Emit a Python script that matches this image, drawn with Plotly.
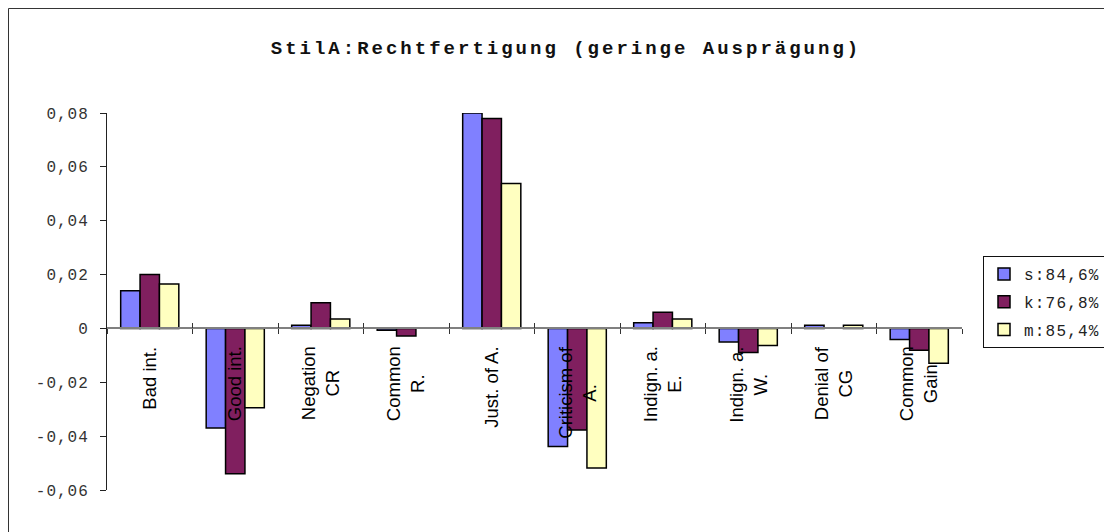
import plotly.graph_objects as go

categories = ["Bad int.", "Good int.", "Negation<br>CR", "Common<br>R.", "Just. of A.",
              "Criticism of<br>A.", "Indign. a.<br>E.", "Indign. a.<br>W.", "Denial of<br>CG", "Common<br>Gain"]
s_vals = [0.014, -0.037, 0.0012, -0.0007, 0.080, -0.0438, 0.0021, -0.005, 0.0012, -0.0041]
k_vals = [0.020, -0.054, 0.0095, -0.0028, 0.078, -0.0377, 0.006, -0.0089, None, -0.0081]
m_vals = [0.0165, -0.0295, 0.0035, None, 0.0538, -0.0518, 0.0035, -0.0063, 0.0012, -0.0129]
series_names = ["s:84,6%", "k:76,8%", "m:85,4%"]
colors = ["#8080FF", "#801F5F", "#FFFFC0"]
tick_vals = [-0.06, -0.04, -0.02, 0, 0.02, 0.04, 0.06, 0.08]
tick_text = ["-0,06", "-0,04", "-0,02", "0", "0,02", "0,04", "0,06", "0,08"]
title_text = "StilA:Rechtfertigung (geringe Ausprägung)"

MONO = "Liberation Mono, DejaVu Sans Mono, monospace"
SANS = "Liberation Sans, Arial, sans-serif"

W, H = 1112, 532
L, T, PW, PH = 99, 105, 855, 377
R = W - L - PW
B = H - T - PH

fig = go.Figure()
for i, (name, vals, col) in enumerate(zip(series_names, [s_vals, k_vals, m_vals], colors)):
    fig.add_trace(go.Bar(
        x=categories, y=vals,
        name='<span style="letter-spacing:1.2px">' + name + '</span>',
        marker=dict(color=col, line=dict(color="black", width=1.5)),
        legendgroup="g%d" % i,
    ))

# overlay axis to draw tick marks crossing upward
fig.add_trace(go.Bar(x=categories, y=[None] * len(categories), xaxis="x2", showlegend=False,
                     hoverinfo="skip"))

ZERO_POS = 0.06 / 0.14

fig.update_layout(
    width=W, height=H,
    paper_bgcolor="white", plot_bgcolor="white",
    margin=dict(l=L, r=R, t=T, b=B, autoexpand=False),
    barmode="group", bargap=0.32, bargroupgap=0,
    separators=", ",
    title=dict(text='<b><span style="letter-spacing:3px">' + title_text + '</span></b>',
               x=558 / W, xanchor="center", y=1 - 39 / H, yanchor="middle",
               font=dict(family=MONO, size=19, color="#111111")),
    xaxis=dict(type="category", anchor="free", position=ZERO_POS, showline=True,
               linecolor="#808080", linewidth=1.5, ticks="outside", ticklen=5,
               tickcolor="#333333", tickson="boundaries", showticklabels=False,
               showgrid=False, zeroline=False, range=[-0.5, 9.5]),
    xaxis2=dict(type="category", overlaying="x", anchor="free", position=ZERO_POS,
                showline=False, ticks="inside", ticklen=5, tickcolor="#333333",
                tickson="boundaries", showticklabels=False, showgrid=False,
                zeroline=False, range=[-0.5, 9.5], side="bottom", matches="x"),
    yaxis=dict(range=[-0.06, 0.08], tickvals=tick_vals,
               ticktext=['<span style="letter-spacing:1px">' + t + '</span>' for t in tick_text],
               showline=True, linecolor="#222222", linewidth=1, ticks="outside",
               ticklen=6, tickcolor="#222222", showgrid=False, zeroline=False,
               ticklabelstandoff=8,
               tickfont=dict(family=MONO, size=16, color="#333333")),
    legend=dict(x=(975 - L) / PW, xanchor="left", y=(T + PH - 248) / PH, yanchor="top",
                bordercolor="#111111", borderwidth=1, bgcolor="white",
                font=dict(family=MONO, size=16, color="#222222"),
                tracegroupgap=4, traceorder="grouped"),
    showlegend=True,
)

for c in categories:
    fig.add_annotation(x=c, y=0, xref="x", yref="y", text=c, showarrow=False,
                       textangle=-90, xanchor="center", yanchor="top", yshift=-16,
                       align="center", font=dict(family=SANS, size=18.5, color="black"))

# outer chart border (paper edge)
fig.add_shape(type="rect", xref="paper", yref="paper",
              x0=-L / PW + 0.0006, x1=1 + R / PW, y0=-B / PH, y1=1 + T / PH - 0.0013,
              line=dict(color="#333333", width=1), fillcolor="rgba(0,0,0,0)", layer="below")

fig.write_html("out.html")
